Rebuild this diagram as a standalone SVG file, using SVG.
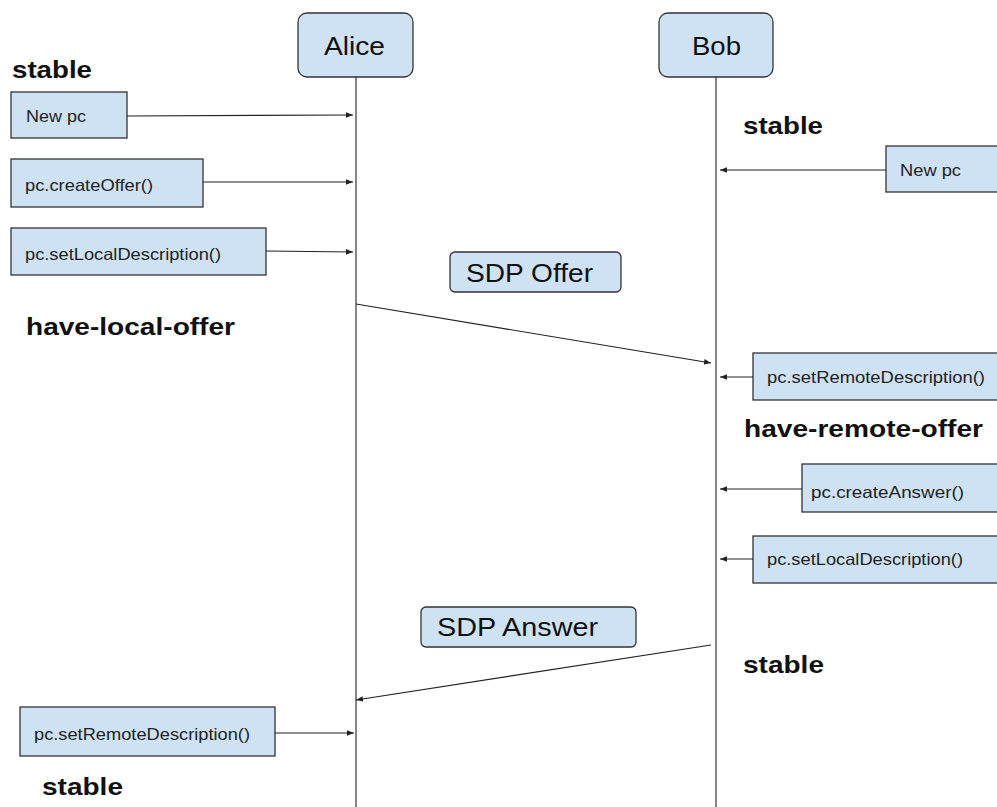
<svg xmlns="http://www.w3.org/2000/svg" width="997" height="807" viewBox="0 0 997 807">
<defs>
<style>
.box{fill:#cfe2f3;stroke:#333;stroke-width:1.3}
.small{font-family:"Liberation Sans",Arial,sans-serif;font-size:16.5px;fill:#222}
.big{font-family:"Liberation Sans",Arial,sans-serif;font-size:25px;fill:#111}
.state{font-family:"Liberation Sans",Arial,sans-serif;font-size:24.5px;font-weight:bold;fill:#111}
.life{stroke:#444;stroke-width:1.3;fill:none}
.arr{stroke:#222;stroke-width:1.2;fill:none;marker-end:url(#ah)}
</style>
<marker id="ah" viewBox="0 0 10 10" refX="10" refY="5" markerWidth="7" markerHeight="7" markerUnits="userSpaceOnUse" orient="auto"><path d="M0,1 L10,5 L0,9 z" fill="#222"/></marker>
</defs>
<rect width="997" height="807" fill="#fff"/>
<g id="states">
<text class="state" x="12" y="78" textLength="80" lengthAdjust="spacingAndGlyphs">stable</text>
<text class="state" x="26" y="335" textLength="209" lengthAdjust="spacingAndGlyphs">have-local-offer</text>
<text class="state" x="743" y="134" textLength="80" lengthAdjust="spacingAndGlyphs">stable</text>
<text class="state" x="744" y="437" textLength="239" lengthAdjust="spacingAndGlyphs">have-remote-offer</text>
<text class="state" x="743" y="673" textLength="81" lengthAdjust="spacingAndGlyphs">stable</text>
<text class="state" x="42" y="795" textLength="81" lengthAdjust="spacingAndGlyphs">stable</text>
</g>
<g id="lifelines">
<line class="life" x1="356" y1="77" x2="356" y2="807"/>
<line class="life" x1="716" y1="77" x2="716" y2="807"/>
</g>
<g id="alice"><rect class="box" x="298" y="13" width="115" height="64" rx="9"/><text class="big" x="324" y="55" textLength="61" lengthAdjust="spacingAndGlyphs">Alice</text></g>
<g id="bob"><rect class="box" x="659" y="13" width="114" height="64" rx="9"/><text class="big" x="692" y="55" textLength="49" lengthAdjust="spacingAndGlyphs">Bob</text></g>
<g id="a-newpc"><rect class="box" x="11" y="92" width="116" height="46"/><text class="small" x="26" y="122" textLength="60" lengthAdjust="spacingAndGlyphs">New pc</text></g>
<g id="a-createoffer"><rect class="box" x="11" y="159" width="192" height="48"/><text class="small" x="25" y="191" textLength="128" lengthAdjust="spacingAndGlyphs">pc.createOffer()</text></g>
<g id="a-setlocal"><rect class="box" x="11" y="228" width="255" height="47"/><text class="small" x="25" y="260" textLength="196" lengthAdjust="spacingAndGlyphs">pc.setLocalDescription()</text></g>
<g id="sdp-offer"><rect class="box" x="450" y="252" width="171" height="40" rx="5"/><text class="big" x="466" y="282" textLength="127" lengthAdjust="spacingAndGlyphs">SDP Offer</text></g>
<g id="b-newpc"><rect class="box" x="886" y="146" width="120" height="46"/><text class="small" x="900" y="176" textLength="61" lengthAdjust="spacingAndGlyphs">New pc</text></g>
<g id="b-setremote"><rect class="box" x="753" y="353" width="253" height="47"/><text class="small" x="767" y="383" textLength="218" lengthAdjust="spacingAndGlyphs">pc.setRemoteDescription()</text></g>
<g id="b-createanswer"><rect class="box" x="802" y="464" width="204" height="48"/><text class="small" x="811" y="498" textLength="153" lengthAdjust="spacingAndGlyphs">pc.createAnswer()</text></g>
<g id="b-setlocal"><rect class="box" x="753" y="536" width="253" height="47"/><text class="small" x="767" y="565" textLength="196" lengthAdjust="spacingAndGlyphs">pc.setLocalDescription()</text></g>
<g id="sdp-answer"><rect class="box" x="421" y="607" width="215" height="40" rx="5"/><text class="big" x="437" y="636" textLength="161" lengthAdjust="spacingAndGlyphs">SDP Answer</text></g>
<g id="a-setremote"><rect class="box" x="20" y="707" width="255" height="49"/><text class="small" x="34" y="740" textLength="216" lengthAdjust="spacingAndGlyphs">pc.setRemoteDescription()</text></g>
<g id="connectors">
<line class="arr" x1="127" y1="116" x2="353" y2="115"/>
<line class="arr" x1="203" y1="182" x2="353" y2="182"/>
<line class="arr" x1="266" y1="251" x2="353" y2="252"/>
<line class="arr" x1="356" y1="304" x2="711" y2="363"/>
<line class="arr" x1="886" y1="170" x2="720" y2="170"/>
<line class="arr" x1="753" y1="377" x2="720" y2="377"/>
<line class="arr" x1="802" y1="489" x2="720" y2="489"/>
<line class="arr" x1="753" y1="559" x2="720" y2="559"/>
<line class="arr" x1="711" y1="645" x2="356" y2="700"/>
<line class="arr" x1="275" y1="733" x2="354" y2="733"/>
</g>
</svg>
